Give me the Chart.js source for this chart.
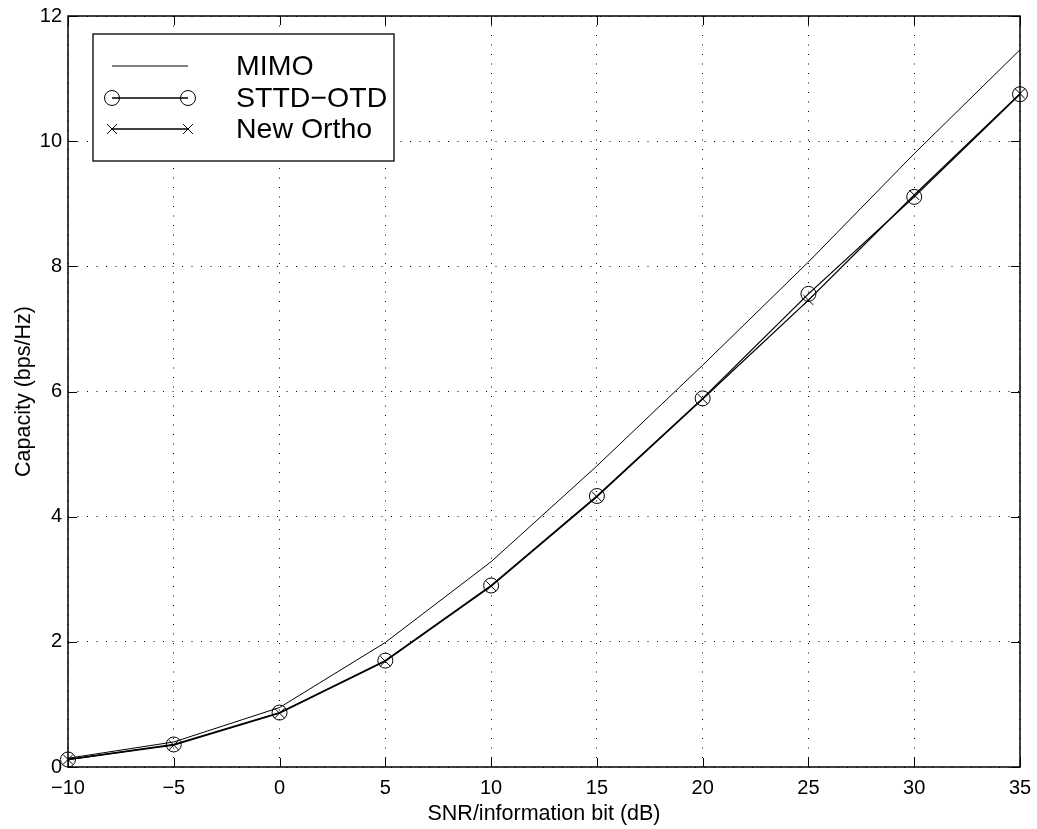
<!DOCTYPE html>
<html>
<head>
<meta charset="utf-8">
<script src="https://cdn.jsdelivr.net/npm/chart.js@4"></script>
<style>
  html, body { margin: 0; padding: 0; background: #fff; }
  #wrap { width: 1037px; height: 829px; }
</style>
</head>
<body>
<div id="wrap"><canvas id="cap"></canvas></div>
<script>
// SNR per information bit (dB) and capacity (bps/Hz)
const snr = [-10, -5, 0, 5, 10, 15, 20, 25, 30, 35]
const mimo = [0.14, 0.40, 0.95, 1.99, 3.28, 4.81, 6.42, 8.07, 9.80, 11.46]
const sttdOtd = [0.12, 0.36, 0.87, 1.70, 2.90, 4.33, 5.89, 7.56, 9.11, 10.75]
const newOrtho = [0.12, 0.35, 0.86, 1.69, 2.89, 4.32, 5.88, 7.46, 9.14, 10.76]

const FONT = '"Liberation Sans", Arial, Helvetica, sans-serif'

const pts = (ys) => snr.map((x, i) => ({ x: x, y: ys[i] }))
const minus = (v) => String(v).replace('-', '\u2212')

// matlab style box, inward ticks and legend
const matlabFrame = {
	id: 'matlabFrame',
	afterDraw(chart) {
		const ctx = chart.ctx
		const { left, right, top, bottom } = chart.chartArea
		const xs = chart.scales.x
		const ys = chart.scales.y
		const tl = 9

		ctx.save()
		ctx.strokeStyle = '#000'
		ctx.lineWidth = 1
		ctx.beginPath()
		xs.ticks.forEach(t => {
			const px = Math.round(xs.getPixelForValue(t.value)) + 0.5
			ctx.moveTo(px, bottom); ctx.lineTo(px, bottom - tl)
			ctx.moveTo(px, top); ctx.lineTo(px, top + tl)
		})
		ys.ticks.forEach(t => {
			const py = Math.round(ys.getPixelForValue(t.value)) + 0.5
			ctx.moveTo(left, py); ctx.lineTo(left + tl, py)
			ctx.moveTo(right, py); ctx.lineTo(right - tl, py)
		})
		ctx.stroke()

		ctx.lineWidth = 1.5
		ctx.strokeRect(left, top, right - left, bottom - top)

		// legend
		const bx = 93, by = 34, bw = 301, bh = 127
		ctx.fillStyle = '#fff'
		ctx.fillRect(bx, by, bw, bh)
		ctx.lineWidth = 1.3
		ctx.strokeRect(bx, by, bw, bh)

		const rows = [66, 98, 129]
		ctx.font = '28.5px ' + FONT
		ctx.textBaseline = 'middle'
		chart.data.datasets.forEach((ds, i) => {
			const y = rows[i]
			ctx.lineWidth = ds.borderWidth
			ctx.strokeStyle = ds.borderColor
			ctx.beginPath()
			ctx.moveTo(112, y); ctx.lineTo(188, y)
			ctx.stroke()
			if (ds.pointRadius > 0) {
				const opts = { pointStyle: ds.pointStyle, radius: ds.pointRadius, borderWidth: 1 }
				ctx.lineWidth = 1
				ctx.fillStyle = 'rgba(0,0,0,0)'
				Chart.helpers.drawPoint(ctx, opts, 112, y)
				Chart.helpers.drawPoint(ctx, opts, 188, y)
			}
			ctx.fillStyle = '#000'
			ctx.fillText(ds.label, 236, y + 1)
		})
		ctx.restore()
	}
}

const common = {
	borderColor: '#000',
	backgroundColor: 'rgba(0,0,0,0)',
	pointBorderColor: '#000',
	pointBackgroundColor: 'rgba(0,0,0,0)',
	pointBorderWidth: 1,
	tension: 0,
	clip: false
}

new Chart(document.getElementById('cap'), {
	type: 'line',
	data: {
		datasets: [
			{ ...common, label: 'MIMO', data: pts(mimo), borderWidth: 1, pointRadius: 0 },
			{ ...common, label: 'STTD\u2212OTD', data: pts(sttdOtd), borderWidth: 1.3, pointStyle: 'circle', pointRadius: 7.5 },
			{ ...common, label: 'New Ortho', data: pts(newOrtho), borderWidth: 1.3, pointStyle: 'crossRot', pointRadius: 7 }
		]
	},
	options: {
		responsive: true,
		maintainAspectRatio: false,
		animation: false,
		layout: { padding: { top: 16, right: 17, left: 0, bottom: 0 } },
		plugins: {
			legend: { display: false },
			tooltip: { enabled: false }
		},
		scales: {
			x: {
				type: 'linear',
				min: -10, max: 35,
				afterFit: (s) => {
					s.height = 62
					s.paddingLeft = 0
					s.paddingRight = 0
				},
				ticks: {
					stepSize: 5,
					color: '#000',
					padding: 9,
					font: { family: FONT, size: 20 },
					callback: (v) => minus(v)
				},
				grid: { color: '#000', lineWidth: 1, drawTicks: false },
				border: { display: false, dash: [1, 8.5] },
				title: {
					display: true,
					text: 'SNR/information bit (dB)',
					color: '#000',
					font: { family: FONT, size: 21.5 },
					padding: { top: 0, bottom: 2 }
				}
			},
			y: {
				min: 0, max: 12,
				afterFit: (s) => {
					s.width = 68
					s.paddingTop = 0
					s.paddingBottom = 0
				},
				ticks: {
					stepSize: 2,
					color: '#000',
					padding: 6,
					font: { family: FONT, size: 20 }
				},
				grid: { color: '#000', lineWidth: 1, drawTicks: false },
				border: { display: false, dash: [1, 8.5] },
				title: {
					display: true,
					text: 'Capacity (bps/Hz)',
					color: '#000',
					font: { family: FONT, size: 21.5 },
					padding: { top: 11, bottom: 0 }
				}
			}
		}
	},
	plugins: [matlabFrame]
})
</script>
</body>
</html>
